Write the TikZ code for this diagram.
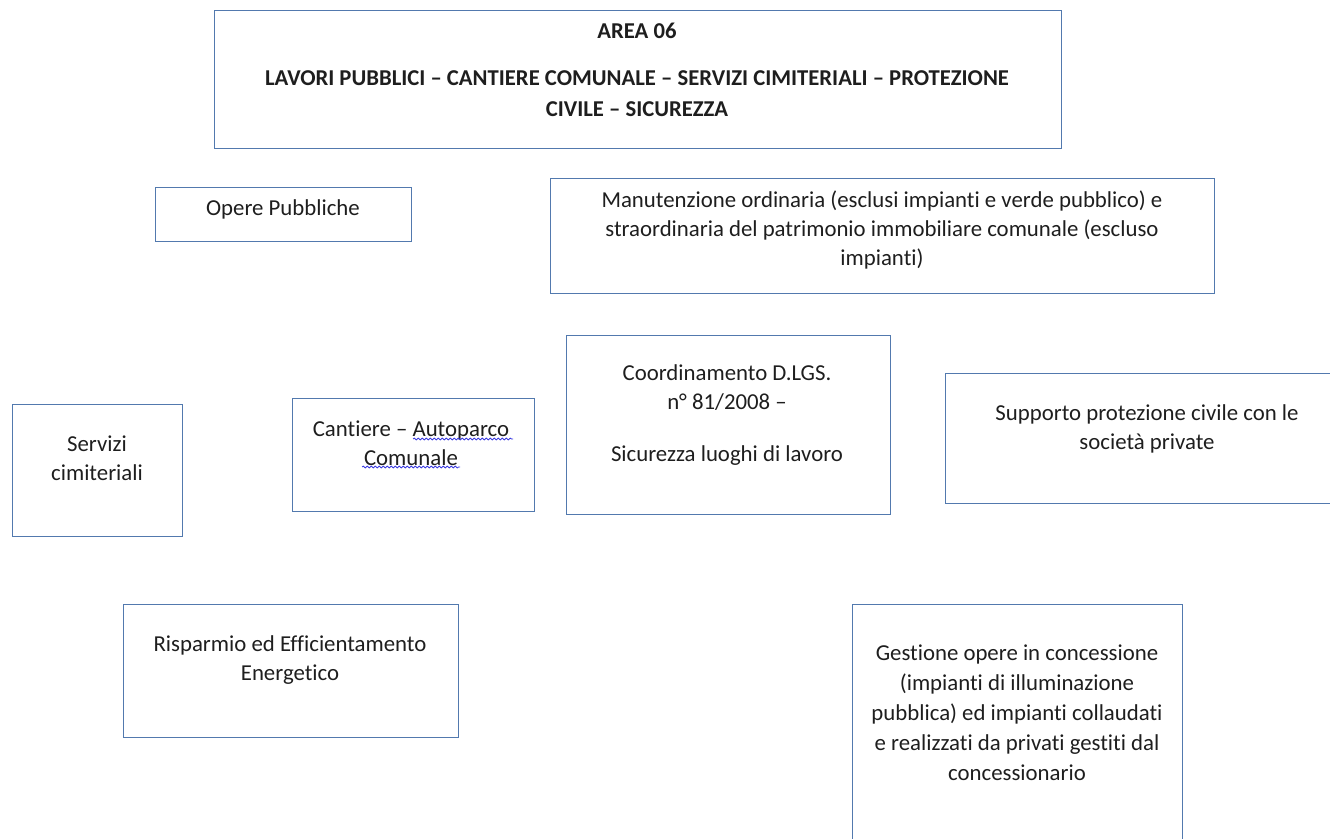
\documentclass[tikz,border=0pt]{standalone}
\usepackage{fontspec}
\setmainfont{Carlito}[RawFeature={-liga}]
\usetikzlibrary{decorations.pathmorphing}
\definecolor{bordercol}{HTML}{5279AE}
\definecolor{txtcol}{HTML}{1E1E1E}
\definecolor{squigcol}{HTML}{3A3AE0}
\tikzset{
  boxx/.style={draw=bordercol, line width=1.1pt, inner sep=0pt, anchor=north west, fill=none},
  txt/.style={align=center, inner sep=0pt, text=txtcol, font=\fontsize{17.1pt}{21.6pt}\selectfont},
  ttl/.style={align=center, inner sep=0pt, text=txtcol, font=\bfseries\fontsize{17pt}{23.4pt}\selectfont},
  squig/.style={draw=squigcol, line width=0.6pt, decorate, decoration={snake, amplitude=0.7pt, segment length=3pt}}
}
\begin{document}
\begin{tikzpicture}[x=0.75pt, y=-0.75pt]
\useasboundingbox (0,0) rectangle (1330,838);
\clip (0,0) rectangle (1330,838);
% boxes
\node[boxx, minimum width={847*0.75pt}, minimum height={138*0.75pt}] (btitle) at (214,10) {};
\node[boxx, minimum width={256*0.75pt}, minimum height={54*0.75pt}] (bopere) at (155,187) {};
\node[boxx, minimum width={664*0.75pt}, minimum height={115*0.75pt}] (bmanut) at (550,178) {};
\node[boxx, minimum width={324*0.75pt}, minimum height={179*0.75pt}] (bcoord) at (566,335) {};
\node[boxx, minimum width={420*0.75pt}, minimum height={130*0.75pt}] (bsupp) at (945,373) {};
\node[boxx, minimum width={170*0.75pt}, minimum height={132*0.75pt}] (bserv) at (12,404) {};
\node[boxx, minimum width={242*0.75pt}, minimum height={113*0.75pt}] (bcant) at (292,398) {};
\node[boxx, minimum width={335*0.75pt}, minimum height={133*0.75pt}] (brisp) at (123,604) {};
\node[boxx, minimum width={330*0.75pt}, minimum height={270*0.75pt}] (bgest) at (852,604) {};
% texts
\node[ttl] (tarea) at (637,31) {AREA 06};
\node[ttl] (ttitle) at (637,93.5) {LAVORI PUBBLICI – CANTIERE COMUNALE – SERVIZI CIMITERIALI – PROTEZIONE\\CIVILE – SICUREZZA};
\node[txt] (topere) at (283,209) {Opere Pubbliche};
\node[txt] (tmanut) at (882,230) {Manutenzione ordinaria (esclusi impianti e verde pubblico) e\\straordinaria del patrimonio immobiliare comunale (escluso\\impianti)};
\node[txt] (tcoord) at (727,415) {Coordinamento D.LGS.\\n° 81/2008 –\\[17pt]Sicurezza luoghi di lavoro};
\node[txt] (tsupp) at (1147,429) {Supporto protezione civile con le\\società private};
\node[txt] (tserv) at (97,458) {Servizi\\cimiteriali};
\node[txt] (tcant) at (411,443) {Cantiere – Autoparco\\Comunale};
\node[txt] (trisp) at (290,660) {Risparmio ed Efficientamento\\Energetico};
\node[txt, font=\fontsize{17.1pt}{22.5pt}\selectfont] (tgest) at (1017,713) {Gestione opere in concessione\\(impianti di illuminazione\\pubblica) ed impianti collaudati\\e realizzati da privati gestiti dal\\concessionario};
% spell-check squiggles
\coordinate (sq1a) at (413,439);
\coordinate (sq1b) at (513,439);
\coordinate (sq2a) at (362,467);
\coordinate (sq2b) at (460,467);
\draw[squig] (sq1a) -- (sq1b);
\draw[squig] (sq2a) -- (sq2b);
\end{tikzpicture}
\end{document}
